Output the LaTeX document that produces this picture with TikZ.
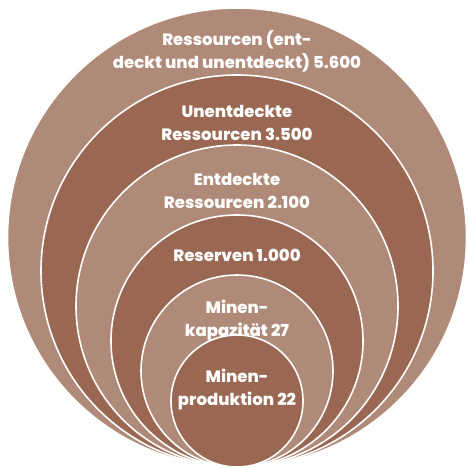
\documentclass[tikz,border=0pt]{standalone}
\usepackage{fontspec}
\setmainfont{Poppins}[BoldFont={Poppins ExtraBold}]
\usetikzlibrary{positioning}
\definecolor{lightbrown}{HTML}{B08A78}
\definecolor{darkbrown}{HTML}{9A6753}
\tikzset{
  ring/.style={draw=white,line width=1.6pt},
  lbl/.style={text=white,font=\bfseries\fontsize{16.5}{23}\selectfont,align=center,inner sep=0pt}
}
\begin{document}
\begin{tikzpicture}[x=1pt,y=-1pt]
\useasboundingbox (0,0) rectangle (468,468);
% nested circles, all touching at the bottom
\filldraw[ring,fill=lightbrown] (237,237.5) circle[radius=229.5pt];
\filldraw[ring,fill=darkbrown] (237,271) circle[radius=196pt];
\filldraw[ring,fill=lightbrown] (237,306) circle[radius=161pt];
\filldraw[ring,fill=darkbrown] (237,341) circle[radius=126pt];
\filldraw[ring,fill=lightbrown] (237,371) circle[radius=96pt];
\filldraw[ring,fill=darkbrown] (237,401) circle[radius=66pt];
% labels
\node[lbl] (total) at (237,51) {Ressourcen (ent-\\deckt und unentdeckt) 5.600};
\node[lbl] (undisc) at (237,123) {Unentdeckte\\Ressourcen 3.500};
\node[lbl] (disc) at (237,191) {Entdeckte\\Ressourcen 2.100};
\node[lbl] (reserves) at (237,255) {Reserven 1.000};
\node[lbl] (capacity) at (237,320) {Minen-\\kapazität 27};
\node[lbl] (production) at (237,389) {Minen-\\produktion 22};
\end{tikzpicture}
\end{document}
